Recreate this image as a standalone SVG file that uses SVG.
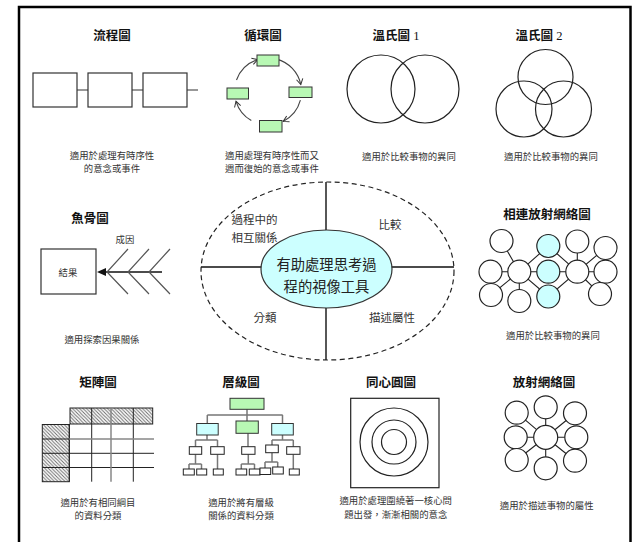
<svg xmlns="http://www.w3.org/2000/svg" width="634" height="542" viewBox="0 0 634 542">
<defs>
<style>
.t{font-family:"Noto Sans CJK TC","Noto Sans",sans-serif;font-size:12.5px;font-weight:bold;fill:#111;text-anchor:middle}
.ts{font-family:"Liberation Serif","Noto Sans CJK TC",serif;font-size:12.5px;fill:#111;text-anchor:middle}
.c{font-family:"Noto Sans CJK TC","Noto Sans",sans-serif;font-size:9.4px;fill:#333;text-anchor:middle}
.q{font-family:"Noto Sans CJK TC","Noto Sans",sans-serif;font-size:11.5px;fill:#333;text-anchor:middle}
.m{font-family:"Noto Sans CJK TC","Noto Sans",sans-serif;font-size:14.3px;fill:#222;text-anchor:middle}
.box{fill:#fff;stroke:#333;stroke-width:1.2}
.g{fill:#b8f8b4;stroke:#333;stroke-width:1}
.cy{fill:#ccffff;stroke:#333;stroke-width:1}
.ln{stroke:#333;stroke-width:1.2;fill:none}
.hl{stroke:#777;stroke-width:1.5;fill:none}
.circ{fill:none;stroke:#222;stroke-width:1.2}
.nd{fill:#fff;stroke:#222;stroke-width:1.2}
.nc{fill:#ccffff;stroke:#222;stroke-width:1.2}
.hb{fill:#fff;stroke:#222;stroke-width:1}
</style>
<marker id="va" markerWidth="8" markerHeight="8" refX="6" refY="4" orient="auto" markerUnits="userSpaceOnUse">
<path d="M0.5,0.8 L6,4 L0.5,7.2" fill="none" stroke="#333" stroke-width="1"/>
</marker>
<pattern id="hatch" patternUnits="userSpaceOnUse" width="3.5" height="3.5">
<rect width="3.5" height="3.5" fill="#fff"/>
<path d="M0,0 L3.5,3.5 M-1,2.5 L1,4.5 M2.5,-1 L4.5,1" stroke="#666" stroke-width="0.9"/>
</pattern>
</defs>
<rect width="634" height="542" fill="#fff"/>
<rect x="19" y="7" width="611.5" height="545" fill="none" stroke="#000" stroke-width="2.5"/>

<g id="connectors">
<!-- flowchart -->
<path class="ln" d="M77,90 H88 M132,90 H143 M187,90 H198"/>
<!-- cycle -->
<g stroke="#444" stroke-width="1.1" fill="none" marker-end="url(#va)">
<path d="M236.5,80 A33.5,33.5 0 0 1 257.6,59.6"/>
<path d="M276.7,59.1 A33.5,33.5 0 0 1 300.8,84.5"/>
<path d="M300.4,100.2 A33.5,33.5 0 0 1 283.2,121.4"/>
<path d="M251.3,120.5 A33.5,33.5 0 0 1 236,101.3"/>
</g>
<!-- fishbone -->
<path d="M105,272 H162" stroke="#111" stroke-width="1.4"/>
<path d="M97,272 L106,268 L106,276 Z" fill="#111"/>
<path d="M128,249 L107,272 L128,294 M149,249 L128,272 L149,294 M170,249 L149,272 L170,294" fill="none" stroke="#555" stroke-width="1.2"/>
<!-- center cross -->
<path d="M201,267 H270 M380,267 H454 M326,182 V240 M326,300 V360" stroke="#111" stroke-width="1.4" fill="none"/>
<!-- linked network -->
<g stroke="#222" stroke-width="1.1">
<path d="M519.3,271.7 L501.5,241 M519.3,271.7 L490.5,271.7 M519.3,271.7 L491,295 M519.3,271.7 L519.3,301 M519.3,271.7 L548.3,246 M519.3,271.7 L548.3,271.7 M519.3,271.7 L548.3,296.5"/>
<path d="M577.3,271.7 L548.3,246 M577.3,271.7 L548.3,271.7 M577.3,271.7 L548.3,296.5 M577.3,271.7 L577.3,241.5 M577.3,271.7 L605.5,248 M577.3,271.7 L605.5,271.7 M577.3,271.7 L600,294"/>
</g>
<!-- hierarchy -->
<g class="hl">
<path d="M247,409.3 V415 M207.3,415 H282.7 M207.3,415 V423.5 M247,415 V421 M282.5,415 V423.5"/>
<path d="M207,435 V440 M195.5,440 H217.5 M195.5,440 V446.7 M217.5,440 V446.7"/>
<path d="M248,433.3 V446.7"/>
<path d="M282.5,435 V440 M272,440 H293.3 M272,440 V445 M293.3,440 V446.7"/>
<path d="M195.5,454.3 V464 M189,464 H201.5 M189,464 V469 M201.5,464 V469"/>
<path d="M217.5,454.3 V469"/>
<path d="M248.3,454.3 V464 M241.3,464 H254.5 M241.3,464 V469 M254.5,464 V469"/>
<path d="M272,452.7 V462 M265,462 H277.7 M265,462 V468 M277.7,462 V467"/>
<path d="M293.3,454.3 V469"/>
</g>
<!-- radial network -->
<g stroke="#222" stroke-width="1.1">
<path d="M545.7,437.3 L545.7,407.3 M545.7,437.3 L516.7,412.7 M545.7,437.3 L575,413.3 M545.7,437.3 L515.7,437.3 M545.7,437.3 L576.3,437.3 M545.7,437.3 L516.7,460 M545.7,437.3 L545.7,468.3 M545.7,437.3 L575,460.7"/>
</g>
</g>

<g id="flowchart">
<text class="t" x="112" y="39.5">流程圖</text>
<rect class="box" x="33" y="73" width="44" height="34"/>
<rect class="box" x="88" y="73" width="44" height="34"/>
<rect class="box" x="143" y="73" width="44" height="34"/>
<text class="c" x="112" y="158.5">適用於處理有時序性</text>
<text class="c" x="112" y="172">的意念或事件</text>
</g>

<g id="cycle">
<text class="t" x="263" y="39.5">循環圖</text>
<rect class="g" x="257" y="55" width="22" height="11"/>
<rect class="g" x="289" y="87" width="23" height="10.5"/>
<rect class="g" x="259.5" y="120.5" width="22.5" height="11.5"/>
<rect class="g" x="227" y="88" width="21.5" height="11"/>
<text class="c" x="272" y="158.5">適用處理有時序性而又</text>
<text class="c" x="272" y="172">週而復始的意念或事件</text>
</g>

<g id="venn1">
<text class="ts" x="396" y="39.5"><tspan font-family="Noto Sans CJK TC" font-weight="bold">溫氏圖</tspan> 1</text>
<circle class="circ" cx="381" cy="89" r="34"/>
<circle class="circ" cx="425" cy="89" r="34"/>
<text class="c" x="409" y="159.5">適用於比較事物的異同</text>
</g>

<g id="venn2">
<text class="ts" x="539" y="39.5"><tspan font-family="Noto Sans CJK TC" font-weight="bold">溫氏圖</tspan> 2</text>
<circle class="circ" cx="545.5" cy="77" r="27.5"/>
<circle class="circ" cx="524" cy="109" r="28"/>
<circle class="circ" cx="563.5" cy="109" r="28"/>
<text class="c" x="551" y="159.5">適用於比較事物的異同</text>
</g>

<g id="fishbone">
<text class="t" x="90" y="222.5">魚骨圖</text>
<text class="c" x="125" y="242.5">成因</text>
<rect class="box" x="41" y="249" width="55" height="45"/>
<text class="c" x="68" y="275.5">結果</text>
<text class="c" x="102" y="342.5">適用探索因果關係</text>
</g>

<g id="center">
<ellipse cx="327.5" cy="271" rx="126.5" ry="89" fill="none" stroke="#222" stroke-width="1.2" stroke-dasharray="5,3.5"/>
<ellipse class="cy" cx="326.5" cy="269" rx="65.5" ry="39" style="stroke-width:1.2"/>
<text class="m" x="326.5" y="270">有助處理思考過</text>
<text class="m" x="326.5" y="291.5">程的視像工具</text>
<text class="q" x="254.5" y="224">過程中的</text>
<text class="q" x="254.5" y="241.5">相互關係</text>
<text class="q" x="390" y="228.5">比較</text>
<text class="q" x="265" y="321.5">分類</text>
<text class="q" x="392" y="321.5">描述屬性</text>
</g>

<g id="linked-network">
<text class="t" x="547" y="218.5">相連放射網絡圖</text>
<circle class="nd" cx="501.5" cy="241" r="11.5"/>
<circle class="nd" cx="490.5" cy="271.7" r="11.5"/>
<circle class="nd" cx="491" cy="295" r="11.5"/>
<circle class="nd" cx="519.3" cy="271.7" r="11.5"/>
<circle class="nd" cx="519.3" cy="301" r="11.5"/>
<circle class="nc" cx="548.3" cy="246" r="11.5"/>
<circle class="nc" cx="548.3" cy="271.7" r="11.5"/>
<circle class="nc" cx="548.3" cy="296.5" r="11.5"/>
<circle class="nd" cx="577.3" cy="271.7" r="11.5"/>
<circle class="nd" cx="577.3" cy="241.5" r="11.5"/>
<circle class="nd" cx="605.5" cy="248" r="11.5"/>
<circle class="nd" cx="605.5" cy="271.7" r="11.5"/>
<circle class="nd" cx="600" cy="294" r="11.5"/>
<text class="c" x="553" y="338.5">適用於比較事物的異同</text>
</g>

<g id="matrix">
<text class="t" x="98" y="386.5">矩陣圖</text>
<rect x="70" y="408" width="82.7" height="16" fill="url(#hatch)" stroke="#222" stroke-width="1"/>
<rect x="42.3" y="424.5" width="27" height="57.2" fill="url(#hatch)" stroke="#222" stroke-width="1"/>
<g stroke="#222" stroke-width="1">
<path d="M91.7,408 V481.7 M133.3,408 V481.7 M69.3,424 V481.7"/>
<path d="M69.3,453.3 H154 M69.3,467.5 H154 M42.3,439 H69.3 M42.3,453.3 H69.3 M42.3,467.5 H69.3"/>
</g>
<path d="M111,408 V481.7 M69.3,439 H154" stroke="#888" stroke-width="1.5"/>
<text class="c" x="98" y="505.5">適用於有相同綱目</text>
<text class="c" x="98" y="519">的資料分類</text>
</g>

<g id="hierarchy">
<text class="t" x="241" y="386.5">層級圖</text>
<rect class="g" x="230" y="398.3" width="34" height="11"/>
<rect class="cy" x="196.7" y="423.5" width="21.5" height="11.5"/>
<rect class="g" x="236" y="421" width="22.3" height="12.3"/>
<rect class="cy" x="271.7" y="423.5" width="21.6" height="11.5"/>
<rect class="hb" x="189.3" y="446.7" width="12.4" height="7.6"/>
<rect class="hb" x="210.7" y="446.7" width="13.5" height="7.6"/>
<rect class="hb" x="241.7" y="446.7" width="13.3" height="7.6"/>
<rect class="hb" x="265.7" y="445" width="12.6" height="7.7"/>
<rect class="hb" x="286.7" y="446.7" width="13.3" height="7.6"/>
<rect class="hb" x="183.3" y="469" width="11" height="6"/>
<rect class="hb" x="196.7" y="469" width="10" height="6"/>
<rect class="hb" x="213.3" y="469" width="10" height="6"/>
<rect class="hb" x="236" y="469" width="10.7" height="6"/>
<rect class="hb" x="249.3" y="469" width="10.7" height="6"/>
<rect class="hb" x="260" y="468" width="10.7" height="6.5"/>
<rect class="hb" x="272.7" y="467" width="10.6" height="7"/>
<rect class="hb" x="289.3" y="469" width="10" height="6"/>
<text class="c" x="241" y="505.5">適用於將有層級</text>
<text class="c" x="241" y="519">關係的資料分類</text>
</g>

<g id="concentric">
<text class="t" x="391" y="386.5">同心圓圖</text>
<rect x="350.7" y="398.3" width="88.3" height="89.4" fill="none" stroke="#222" stroke-width="1.2"/>
<circle class="circ" cx="394" cy="442" r="34"/>
<circle class="circ" cx="394" cy="442" r="22"/>
<circle class="circ" cx="394" cy="442" r="12.5"/>
<text class="c" x="395.7" y="504">適用於處理圍繞著一核心問</text>
<text class="c" x="395.7" y="517.5">題出發，漸漸相關的意念</text>
</g>

<g id="radial-network">
<text class="t" x="544" y="386.5">放射網絡圖</text>
<circle class="nd" cx="545.7" cy="437.3" r="12"/>
<circle class="nd" cx="545.7" cy="407.3" r="11.5"/>
<circle class="nd" cx="516.7" cy="412.7" r="11.5"/>
<circle class="nd" cx="575" cy="413.3" r="11.5"/>
<circle class="nd" cx="515.7" cy="437.3" r="11.5"/>
<circle class="nd" cx="576.3" cy="437.3" r="11.5"/>
<circle class="nd" cx="516.7" cy="460" r="11.5"/>
<circle class="nd" cx="545.7" cy="468.3" r="11.5"/>
<circle class="nd" cx="575" cy="460.7" r="11.5"/>
<text class="c" x="546.7" y="509">適用於描述事物的屬性</text>
</g>
</svg>
